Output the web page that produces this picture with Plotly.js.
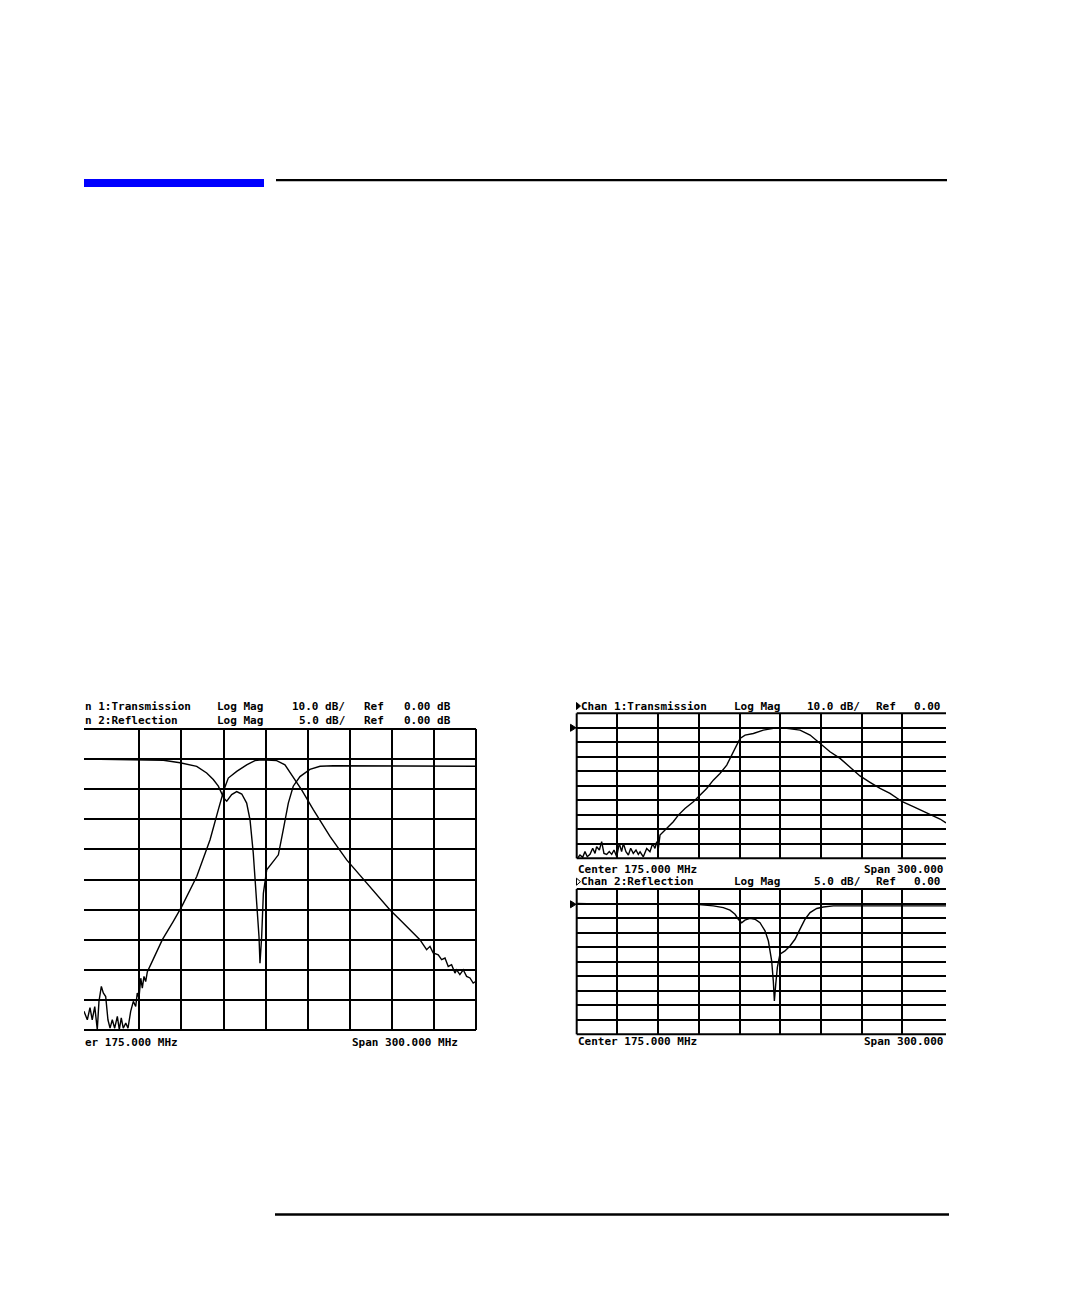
<!DOCTYPE html>
<html><head><meta charset="utf-8">
<script src="https://cdn.plot.ly/plotly-3.0.1.min.js"></script>
<style>html,body{margin:0;padding:0;background:#fff}#chart{width:1080px;height:1296px}</style>
</head><body><div id="chart"></div>
<script>
// ---------- data (frequency in MHz, magnitude in dB) ----------
// Left display: both channels overlaid
const leftTransFreq = [45.5,47.9,49.8,51.4,53.2,55.0,56.2,57.9,59.3,61.0,62.6,64.1,65.7,67.4,69.3,70.7,72.1,73.5,75.3,76.9,78.8,80.7,82.4,83.5,84.7,86.0,87.1,88.3,89.5,90.7,93.1,96.6,101.4,109.2,115.2,125.9,135.4,141.3,145.3,148.4,154.4,161.5,167.4,172.2,182.9,188.8,194.7,200.7,209.0,220.9,232.8,247.1,263.7,270.8,277.9,285.0,289.8,292.2,294.5,298.1,300.5,302.9,305.2,307.6,310.0,311.2,313.5,315.9,318.3,320.7,323.0,325.0];
const leftTransDb   = [-83.8,-86.6,-82.6,-86.6,-82.2,-89.9,-80.5,-75.5,-77.7,-78.9,-86.6,-89.4,-86.6,-89.4,-85.5,-89.9,-86.0,-89.4,-87.7,-89.4,-83.8,-80.5,-82.2,-77.7,-79.4,-72.8,-76.1,-72.2,-73.9,-70.6,-68.3,-65.0,-60.0,-53.9,-49.0,-39.0,-26.8,-16.8,-10.2,-6.3,-4.1,-1.9,-0.5,-0.2,-0.5,-1.9,-5.8,-10.2,-16.8,-25.7,-33.5,-41.2,-50.1,-53.4,-56.7,-60.0,-63.3,-62.2,-64.4,-65.0,-66.6,-66.1,-68.9,-68.3,-71.1,-70.0,-71.6,-70.0,-72.2,-72.7,-74.4,-73.8];
const leftReflFreq  = [45.5,102.1,114.0,125.9,133.0,137.7,141.3,143.7,145.3,147.3,150.8,154.4,158.0,161.5,163.9,166.2,168.6,170.3,171.0,172.2,173.4,175.8,180.5,184.1,187.6,191.2,194.7,199.5,206.6,213.8,223.3,232.8,239.9,325.0];
const leftReflDb    = [0.0,-0.2,-0.6,-1.2,-2.3,-3.4,-4.5,-5.6,-6.5,-7.0,-5.9,-5.4,-5.8,-7.3,-10.1,-15.6,-23.9,-29.5,-33.9,-29.5,-22.3,-18.4,-17.0,-15.9,-11.7,-7.3,-4.5,-2.9,-1.7,-1.2,-1.1,-1.1,-1.2,-1.2];

// Right display: split channels
const rightTransFreq = [25.5,27.4,29.4,31.1,32.8,34.8,36.8,38.5,39.7,41.7,43.4,45.1,47.1,49.0,50.8,52.5,54.5,56.4,58.1,59.4,61.3,63.1,64.8,66.7,68.7,70.4,71.7,74.1,76.6,79.0,81.0,82.7,84.0,85.2,86.4,88.9,92.6,96.2,99.9,104.8,111.0,115.9,120.8,125.7,130.6,135.6,139.2,142.9,145.4,149.1,155.2,162.6,170.0,179.8,189.6,197.0,204.3,211.7,219.1,226.4,233.8,241.2,248.6,255.9,265.0,273.1,280.5,287.9,292.8,297.2];
const rightTransDb   = [-90.0,-87.7,-89.3,-85.4,-88.9,-87.3,-83.1,-86.6,-82.0,-84.3,-78.5,-86.6,-87.3,-85.4,-87.3,-84.3,-88.9,-79.7,-85.4,-79.7,-85.4,-87.7,-83.1,-86.6,-84.3,-87.3,-85.5,-89.0,-83.2,-85.5,-79.8,-83.2,-78.6,-83.2,-74.0,-71.7,-68.3,-64.8,-60.2,-55.6,-51.0,-46.4,-41.8,-36.1,-31.5,-25.7,-18.8,-11.9,-7.3,-5.0,-3.9,-1.6,-0.4,-0.4,-1.6,-5.0,-10.8,-16.5,-21.1,-26.8,-33.2,-37.6,-41.8,-45.2,-51.0,-54.4,-57.4,-60.6,-62.9,-65.6];
const rightReflFreq  = [25.0,48.3,111.0,118.3,125.7,133.1,138.0,141.7,144.1,146.6,149.0,152.7,156.4,160.1,163.8,166.3,168.7,169.9,170.7,171.7,172.9,174.8,178.5,182.2,185.9,189.6,193.3,197.0,201.9,206.8,214.2,297.2];
const rightReflDb    = [0.0,-0.2,-0.2,-0.5,-0.8,-1.4,-2.3,-3.7,-5.4,-6.6,-5.7,-5.1,-5.4,-6.6,-9.4,-12.9,-19.7,-26.6,-33.5,-27.8,-22.0,-17.4,-16.3,-14.6,-12.3,-8.8,-5.4,-3.1,-1.7,-1.2,-0.8,-0.8];

// grid / tick values
const leftGridFreqs  = [85,115,145,175,205,235,265,295];
const rightGridFreqs = [55,85,115,145,175,205,235,265];
const ch1GridDb = [-80,-70,-60,-50,-40,-30,-20,-10,0];
const ch2GridDb = [-40,-35,-30,-25,-20,-15,-10,-5,0];

// text labels
const leftHeader1 = ["n 1:Transmission","Log Mag","10.0 dB/","Ref","0.00 dB"];
const leftHeader2 = ["n 2:Reflection","Log Mag","5.0 dB/","Ref","0.00 dB"];
const leftFooter  = ["er 175.000 MHz","Span 300.000 MHz"];
const rightHeader1 = ["Chan 1:Transmission","Log Mag","10.0 dB/","Ref","0.00"];
const rightHeader2 = ["Chan 2:Reflection","Log Mag","5.0 dB/","Ref","0.00"];
const rightFooter  = ["Center 175.000 MHz","Span 300.000"];

// ---------- layout helpers ----------
const W = 1080, H = 1296;
const fx = x => x / W, fy = y => 1 - y / H;
const FONT = {family: "DejaVu Sans Mono", size: 11, color: "#000", weight: "bold"};

function ann(text, x, y) {
  return {text, x: fx(x - 1.5), y: fy(y), xref: "paper", yref: "paper", xanchor: "left", yanchor: "middle",
          showarrow: false, font: FONT};
}
function line(x0, y0, x1, y1, w, c) {
  return {type: "line", xref: "paper", yref: "paper", x0: fx(x0), y0: fy(y0), x1: fx(x1), y1: fy(y1),
          line: {color: c || "#000", width: w}};
}
function tri(x0, yc, w, h, filled) {
  const p = `M ${fx(x0)} ${fy(yc - h / 2)} L ${fx(x0 + w)} ${fy(yc)} L ${fx(x0)} ${fy(yc + h / 2)} Z`;
  return {type: "path", xref: "paper", yref: "paper", path: p,
          fillcolor: filled ? "#000" : "rgba(0,0,0,0)", line: {color: "#000", width: 1}};
}

const gridAx = (domain, range, vals, anchor) => ({
  domain, range, anchor, tickmode: "array", tickvals: vals, showgrid: true, gridcolor: "#000", gridwidth: 2,
  showticklabels: false, zeroline: false, showline: false, ticks: "", fixedrange: true
});

const trace = (x, y, xa, ya) => ({x, y, xaxis: xa, yaxis: ya, type: "scatter", mode: "lines",
  line: {color: "#000", width: 1.4}, hoverinfo: "skip", showlegend: false});

const data = [
  trace(leftTransFreq, leftTransDb, "x", "y"),
  trace(leftReflFreq, leftReflDb, "x", "y2"),
  trace(rightTransFreq, rightTransDb, "x2", "y3"),
  trace(rightReflFreq, rightReflDb, "x3", "y4")
];

// geometry (pixels)
const L = {x0: 84, x1: 476, y0: 729, y1: 1030, fStart: 45.53, fEnd: 325};
const R = {x0: 576.7, x1: 946, fStart: 25, fEnd: 297.2};
const RT = {y0: 713.3, y1: 858.3};
const RB = {y0: 889, y1: 1034.3};

const layout = {
  width: W, height: H, margin: {l: 0, r: 0, t: 0, b: 0},
  paper_bgcolor: "#fff", plot_bgcolor: "rgba(0,0,0,0)", showlegend: false,
  xaxis:  gridAx([fx(L.x0), fx(L.x1)], [L.fStart, L.fEnd], leftGridFreqs, "y"),
  yaxis:  gridAx([fy(L.y1), fy(L.y0)], [-90, 10], ch1GridDb, "x"),
  yaxis2: Object.assign(gridAx([fy(L.y1), fy(L.y0)], [-45, 5], [], "x"), {overlaying: "y", showgrid: false}),
  xaxis2: gridAx([fx(R.x0), fx(R.x1)], [R.fStart, R.fEnd], rightGridFreqs, "y3"),
  yaxis3: gridAx([fy(RT.y1), fy(RT.y0)], [-90, 10], ch1GridDb, "x2"),
  xaxis3: gridAx([fx(R.x0), fx(R.x1)], [R.fStart, R.fEnd], rightGridFreqs, "y4"),
  yaxis4: gridAx([fy(RB.y1), fy(RB.y0)], [-45, 5], ch2GridDb, "x3"),
  shapes: [
    // page decorations
    {type: "rect", xref: "paper", yref: "paper", x0: fx(84), x1: fx(264), y0: fy(179), y1: fy(187),
     fillcolor: "#0000ff", line: {width: 0}},
    line(276, 180.2, 947, 180.2, 2.3),
    line(275, 1214.5, 949, 1214.5, 2.5),
    // left display borders
    line(L.x0, L.y0, L.x1, L.y0, 2), line(L.x1, L.y0, L.x1, L.y1, 2), line(L.x0, L.y1, L.x1, L.y1, 2),
    // right top borders
    line(R.x0, RT.y0, R.x1, RT.y0, 2), line(R.x0, RT.y0, R.x0, RT.y1, 2), line(R.x0, RT.y1, R.x1, RT.y1, 2),
    // right bottom borders
    line(R.x0, RB.y0, R.x1, RB.y0, 2), line(R.x0, RB.y0, R.x0, RB.y1, 2), line(R.x0, RB.y1, R.x1, RB.y1, 2),
    // reference markers
    tri(570.5, 727.8, 5.5, 7, true),
    tri(570.5, 904.3, 5.5, 7, true),
    // active-channel markers in headers
    tri(576.5, 706, 4, 7, true),
    tri(576.5, 881.7, 4, 7, false)
  ],
  annotations: [
    ann(leftHeader1[0], 84, 706), ann(leftHeader1[1], 216.7, 706), ann(leftHeader1[2], 291.7, 706),
    ann(leftHeader1[3], 363.3, 706), ann(leftHeader1[4], 403.3, 706),
    ann(leftHeader2[0], 84, 720.7), ann(leftHeader2[1], 216.7, 720.7), ann(leftHeader2[2], 298.3, 720.7),
    ann(leftHeader2[3], 363.3, 720.7), ann(leftHeader2[4], 403.3, 720.7),
    ann(leftFooter[0], 84, 1042.7), ann(leftFooter[1], 351.7, 1042.7),
    ann(rightHeader1[0], 580.5, 706), ann(rightHeader1[1], 733.3, 706), ann(rightHeader1[2], 806.7, 706),
    ann(rightHeader1[3], 875, 706), ann(rightHeader1[4], 913.3, 706),
    ann(rightFooter[0], 577, 869), ann(rightFooter[1], 863.3, 869),
    ann(rightHeader2[0], 580.5, 881.7), ann(rightHeader2[1], 733.3, 881.7), ann(rightHeader2[2], 813.3, 881.7),
    ann(rightHeader2[3], 875, 881.7), ann(rightHeader2[4], 913.3, 881.7),
    ann(rightFooter[0], 577, 1041.7), ann(rightFooter[1], 863.3, 1041.7)
  ]
};

Plotly.newPlot("chart", data, layout, {staticPlot: true, displayModeBar: false});
</script></body></html>
